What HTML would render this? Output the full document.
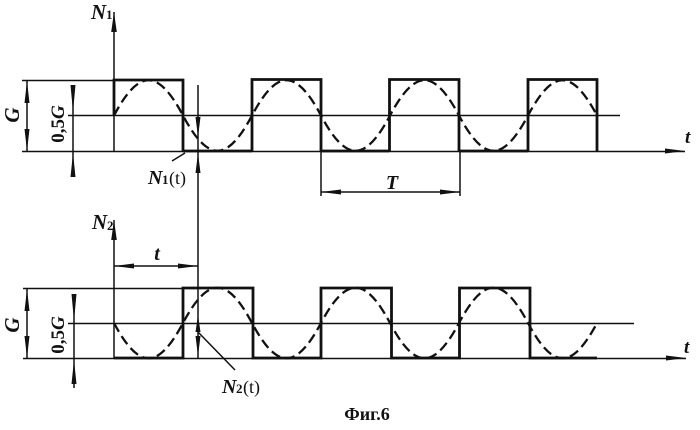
<!DOCTYPE html>
<html>
<head>
<meta charset="utf-8">
<style>
html,body{margin:0;padding:0;background:#fff;}
svg{display:block;}
text{font-family:"Liberation Serif",serif;fill:#111;}
.b{font-weight:bold;font-style:italic;}
.thin{stroke:#111;stroke-width:1.5;fill:none;}
.thick{stroke:#111;stroke-width:2.8;fill:none;}
.dash{stroke:#111;stroke-width:2.3;fill:none;stroke-dasharray:10 5;}
.ah{fill:#111;stroke:none;}
</style>
</head>
<body>
<svg width="700" height="430" viewBox="0 0 700 430" xmlns="http://www.w3.org/2000/svg">
<rect width="700" height="430" fill="#fff"/>

<!-- TOP CHART -->
<path class="thin" d="M22 80.500H114 M22 151.500H685 M68 115.500H620 M114 12V151.500"/>
<path class="thick" d="M114 115V80H183V151 M252 151V79.500H321V151 M389.500 151V79.500H459V151 M528 151V79.500H597V151 M183 151H252 M321 151H389 M459 151H528"/>
<path class="dash" d="M114 115.500c25-47 44-47 69 0s44 47 69 0s44-47 69 0s44 47 69 0s44-47 69 0s44 47 69 0s44-47 69 0"/>
<path class="ah" d="M114 12l-2.800 20h5.600z M685 151l-20-2.500v5z"/>
<text class="b" x="91" y="19" font-size="21">N</text><text x="106" y="19" font-size="13" font-weight="bold">1</text>
<text class="b" x="685" y="143" font-size="19">t</text>

<path class="thin" d="M27 80.500V151.500 M73 85V177 M198 85V358"/>
<path class="ah" d="M27 81l-2.500 22h5z M27 151l-2.500-22h5z M73 112l-2.500-27h5z M73 153l-2.500 24h5z M198 137l-2.500-20h5z M198 153l-2.500 20h5z"/>
<text class="b" font-size="21" text-anchor="middle" transform="translate(19 115) rotate(-90)">G</text>
<text font-size="19" font-weight="bold" text-anchor="middle" transform="translate(64 124) rotate(-90)">0,5<tspan font-style="italic">G</tspan></text>

<path class="thin" d="M172 161L185 153"/>
<text class="b" x="148" y="184" font-size="20">N</text><text x="162" y="184" font-size="13" font-weight="bold">1</text><text x="169" y="184" font-size="18">(t)</text>

<path class="thin" d="M321 151V196 M460 151V196 M321 192H460"/>
<path class="ah" d="M321 192l20-2.500v5z M460 192l-20-2.500v5z"/>
<text class="b" x="392" y="189" font-size="20" text-anchor="middle">T</text>

<!-- BOTTOM CHART -->
<path class="thin" d="M23 288.500H183 M23 358.500H686 M68 323.500H634 M114 220V358.500 M114 266H198"/>
<path class="thick" d="M114 358H183V288H253V358H321V288H391.500V358H459.500V288H530V358H597"/>
<path class="dash" d="M114 323c25 47 44 47 69 0s44-47 69 0s44 47 69 0s44-47 69 0s44 47 69 0s44-47 69 0s44 47 69 0"/>
<path class="ah" d="M114 220l-2.800 20h5.600z M686 358l-20-2.500v5z M114 266l20-2.500v5z M198 266l-20-2.500v5z"/>
<text class="b" x="92" y="229" font-size="21">N</text><text x="107" y="230" font-size="13" font-weight="bold">2</text>
<text class="b" x="684" y="353" font-size="19">t</text>
<text class="b" x="157" y="260" font-size="20" text-anchor="middle">t</text>

<path class="thin" d="M27 288.500V358.500 M74 294V388"/>
<path class="ah" d="M27 289l-2.500 22h5z M27 358l-2.500-22h5z M74 321l-2.500-27h5z M74 360l-2.500 24h5z M198 315l-2.500 17h5z M198 356l-2.500-20h5z"/>
<text class="b" font-size="21" text-anchor="middle" transform="translate(19 325) rotate(-90)">G</text>
<text font-size="19" font-weight="bold" text-anchor="middle" transform="translate(64 335) rotate(-90)">0,5<tspan font-style="italic">G</tspan></text>

<path class="thin" d="M198 332L235 370"/>
<text class="b" x="222" y="393" font-size="20">N</text><text x="236" y="393" font-size="13" font-weight="bold">2</text><text x="243" y="393" font-size="18">(t)</text>

<text x="367" y="420" font-size="18" font-weight="bold" text-anchor="middle">Фиг.6</text>
</svg>
</body>
</html>
